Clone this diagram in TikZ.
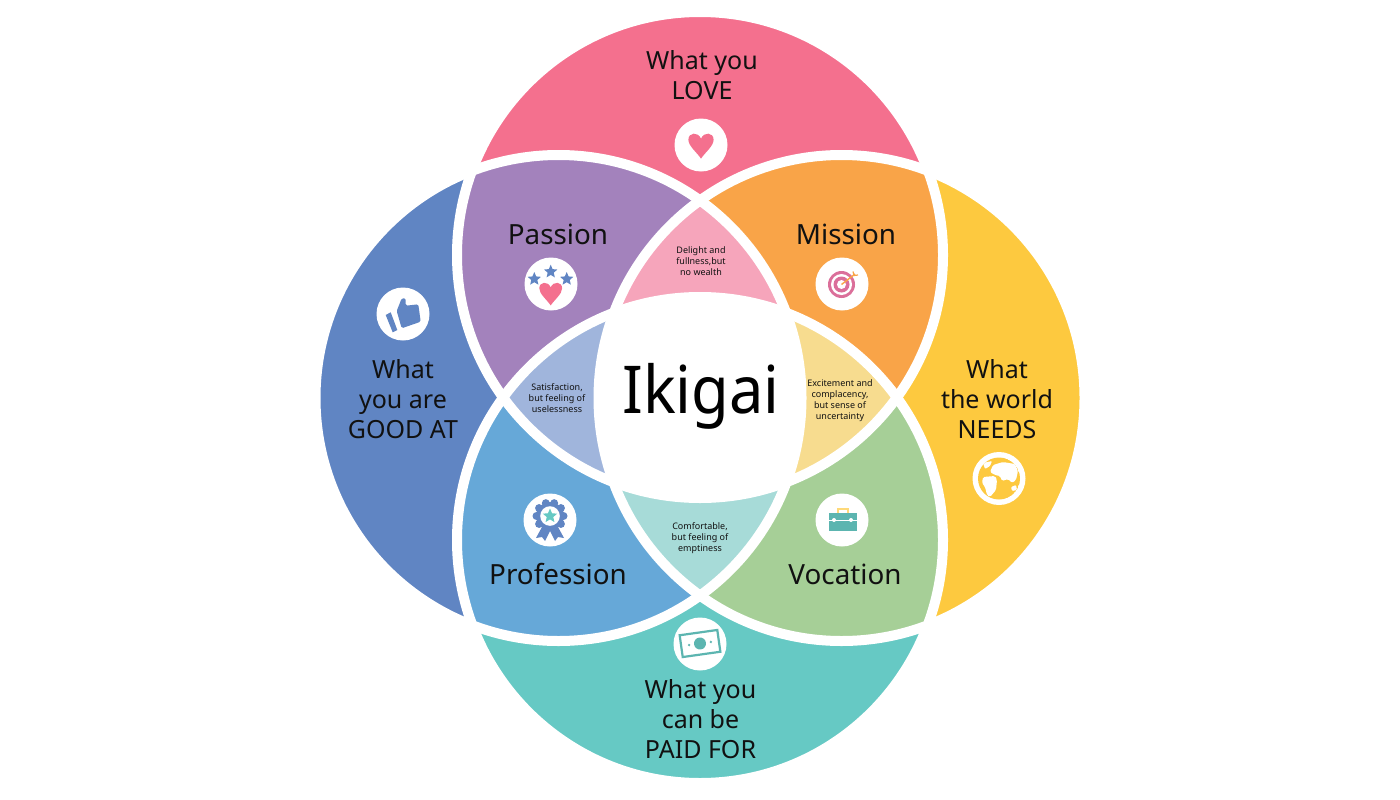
\documentclass[tikz,border=0pt]{standalone}
\usepackage{fontspec}
\setmainfont{Noto Sans}
\usetikzlibrary{shapes.geometric}
\definecolor{cLove}{HTML}{F4708E}
\definecolor{cGood}{HTML}{6085C3}
\definecolor{cNeeds}{HTML}{FDC93F}
\definecolor{cPaid}{HTML}{66C9C4}
\definecolor{cPassion}{HTML}{A382BC}
\definecolor{cMission}{HTML}{F9A448}
\definecolor{cProfession}{HTML}{66A8D8}
\definecolor{cVocation}{HTML}{A6CF97}
\definecolor{cDelight}{HTML}{F6A5BB}
\definecolor{cExcite}{HTML}{F7DC8F}
\definecolor{cSatisf}{HTML}{A0B5DC}
\definecolor{cComfort}{HTML}{A7DBD8}
\definecolor{cText}{HTML}{111111}
\definecolor{cRing}{HTML}{DB6F9A}
\tikzstyle{big} = [text=cText,align=center,inner sep=0pt,font=\fontsize{25}{30}\selectfont]
\tikzstyle{regionlabel} = [text=cText,align=center,inner sep=0pt,font=\fontsize{27.8}{30}\selectfont]
\tikzstyle{small} = [text=cText,align=center,inner sep=0pt,font=\fontsize{9}{11}\selectfont]
\tikzstyle{badge} = [fill=white]
\tikzstyle{tinystar} = [star,star points=5,star point ratio=2.2,inner sep=0pt,minimum size=14pt,fill=cGood]
\newcommand{\cTop}{(700,255) circle (243)}
\newcommand{\cBot}{(700,540) circle (243)}
\newcommand{\cLeft}{(558.5,398) circle (243)}
\newcommand{\cRight}{(841.5,398) circle (243)}
\newcommand{\lensfill}[3]{\begin{scope}\clip #1;\clip #2;\fill[#3] (0,0) rectangle (1400,800);\end{scope}}
\newcommand{\trifill}[4]{\begin{scope}\clip #1;\clip #2;\clip #3;\fill[#4] (0,0) rectangle (1400,800);\end{scope}}
\newcommand{\heartshape}[4]{\fill[#4,shift={(#1,#2)},scale=#3] (0,12) .. controls (-4,6) and (-12,0) .. (-12,-6) .. controls (-12,-13) and (-3,-14) .. (0,-7) .. controls (3,-14) and (12,-13) .. (12,-6) .. controls (12,0) and (4,6) .. (0,12) -- cycle;}

\begin{document}
\begin{tikzpicture}[x=1pt,y=-1pt]
	\useasboundingbox (0,0) rectangle (1400,800);
	\fill[white] (0,0) rectangle (1400,800);

	% four circles
	\fill[cLove] \cTop;
	\fill[cPaid] \cBot;
	\fill[cGood] \cLeft;
	\fill[cNeeds] \cRight;

	% overlaps
	\lensfill{\cTop}{\cLeft}{cPassion}
	\lensfill{\cTop}{\cRight}{cMission}
	\lensfill{\cBot}{\cLeft}{cProfession}
	\lensfill{\cBot}{\cRight}{cVocation}
	\trifill{\cTop}{\cLeft}{\cRight}{cDelight}
	\trifill{\cBot}{\cLeft}{\cRight}{cComfort}
	\trifill{\cTop}{\cBot}{\cLeft}{cSatisf}
	\trifill{\cTop}{\cBot}{\cRight}{cExcite}
	\begin{scope}
		\clip \cTop; \clip \cBot; \clip \cLeft;
		\fill[white] \cRight;
	\end{scope}

	% white rims
	\foreach \rim in {\cTop,\cBot,\cLeft,\cRight}
		\draw[white,line width=10pt] \rim;

	% labels
	\node[big] (love) at (702,75) {What you\\LOVE};
	\node[big] (good) at (403,399) {What\\you are\\GOOD AT};
	\node[big] (needs) at (997,399) {What\\the world\\NEEDS};
	\node[big] (paid) at (700.5,719) {What you\\can be\\PAID FOR};
	\node[regionlabel] (passion) at (558,234) {Passion};
	\node[regionlabel] (mission) at (846,234) {Mission};
	\node[regionlabel] (profession) at (558,574) {Profession};
	\node[regionlabel] (vocation) at (845,574) {Vocation};
	\node[text=black,inner sep=0pt,xscale=0.93,font=\fontsize{66}{70}\selectfont] (ikigai) at (701,396) {Ikigai};
	\node[small] (delight) at (701,261) {Delight and\\fullness,but\\no wealth};
	\node[small] (satisf) at (557,398) {Satisfaction,\\but feeling of\\uselessness};
	\node[small] (excite) at (840,401) {Excitement and\\complacency,\\but sense of\\uncertainty};
	\node[small] (comfort) at (700,538) {Comfortable,\\but feeling of\\emptiness};

	% heart badge
	\fill[badge] (701,145) circle (26.5);
	\heartshape{701}{146}{1.05}{cLove}

	% thumb badge
	\fill[badge] (403,314) circle (26.5);
	\fill[cGood] (385.7,315) -- (390.7,312.3) -- (397.3,330) -- (392.7,332.3) -- cycle;
	\fill[cGood,rounded corners=1.5pt] (396.7,311) -- (401.7,298.3) -- (405.7,298.3) -- (405.7,305.7) -- (418.3,304.3) -- (420.7,321.7) -- (401.7,328.3) -- cycle;

	% stars and heart badge
	\fill[badge] (551,284) circle (26.5);
	\node[tinystar] (starA) at (534.3,279) {};
	\node[tinystar] (starB) at (550.7,271.7) {};
	\node[tinystar] (starC) at (566.7,279) {};
	\heartshape{550.7}{294}{0.95}{cLove}

	% target badge
	\fill[badge] (842,284) circle (26.5);
	\fill[cRing] (841.5,284.5) circle (13.5);
	\fill[white] (841.5,284.5) circle (10.5);
	\fill[cRing] (841.5,284.5) circle (8);
	\fill[white] (841.5,284.5) circle (4.5);
	\draw[cMission,line width=1.4pt] (841.5,284.5) -- (855,274);
	\draw[cMission,line width=1.2pt] (853,271.5) -- (854,275.5) -- (858,275);

	% globe badge
	\fill[badge] (999,478.5) circle (26.5);
	\begin{scope}
		\clip (999,478.5) circle (21);
		\fill[cNeeds] (999,478.5) circle (21);
		\fill[white,rounded corners=1.5pt] (993,465) -- (1003,462) -- (1015,464) -- (1018,471) -- (1016,480) -- (1012,483) -- (1008,479) -- (1002,481) -- (1000,476) -- (995,475) -- (990,472) -- cycle;
		\fill[white,rounded corners=1.5pt] (983,477) -- (995,476) -- (997,480) -- (996,490) -- (990,497) -- (987,495) -- (985,487) -- (982,483) -- cycle;
		\fill[white,rounded corners=1pt] (983,463) -- (992,461) -- (990,466) -- (985,469) -- cycle;
		\fill[white,rounded corners=1pt] (1011,487) -- (1016,485) -- (1017,490) -- (1012,491) -- cycle;
	\end{scope}

	% medal badge
	\fill[badge] (550,520) circle (26.5);
	\fill[cGood] (542,527) -- (536,538) -- (542,537) -- (545,541) -- (550,531) -- (555,541) -- (558,537) -- (564,538) -- (558,527) -- cycle;
	\foreach \ang in {0,36,...,324}
		\fill[cGood] (550,516) ++(\ang:13.5) circle (4);
	\fill[cGood] (550,516) circle (14);
	\fill[white] (550,516) circle (9.8);
	\node[tinystar,fill=cPaid,minimum size=15pt] (medalstar) at (550,516) {};

	% briefcase badge
	\fill[badge] (842,520) circle (26.5);
	\draw[cNeeds!70!white,line width=2pt] (838,513) -- (838,509) -- (848,509) -- (848,513);
	\fill[cPaid!90!black] (829,513) rectangle (857,531);
	\draw[white,line width=0.9pt] (829,520) -- (857,520);
	\fill[white] (834,520) circle (2) (851,520) circle (2);

	% banknote badge
	\fill[badge] (700,644) circle (26.5);
	\begin{scope}[shift={(700,643.5)},rotate=8]
		\draw[cPaid!90!black,line width=2.2pt] (-19,-11) rectangle (19,11);
		\fill[cPaid!90!black] (0,0) circle (6);
		\fill[cPaid!90!black] (-11,0) circle (1.3) (11,0) circle (1.3);
	\end{scope}
\end{tikzpicture}
\end{document}
